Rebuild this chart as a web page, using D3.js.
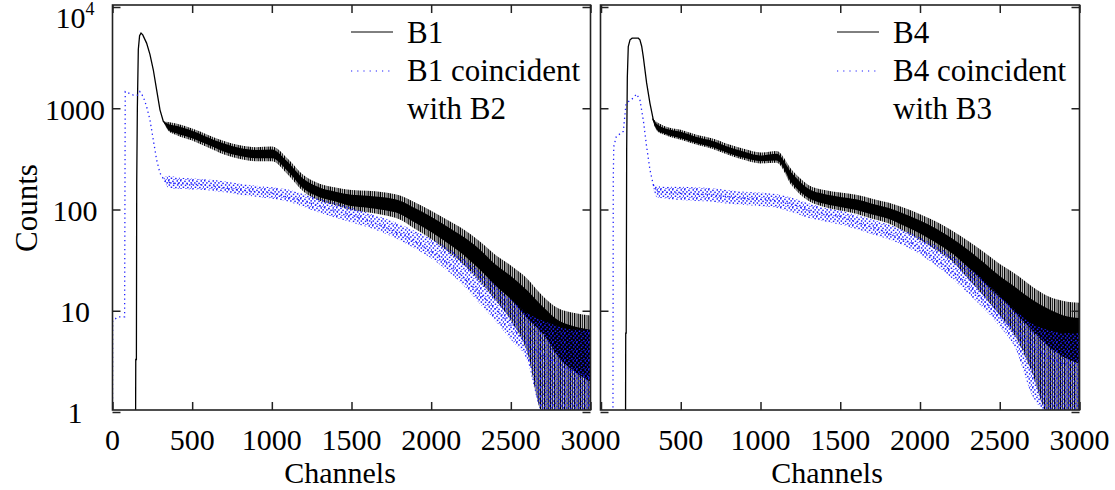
<!DOCTYPE html>
<html>
<head>
<meta charset="utf-8">
<script src="https://cdn.jsdelivr.net/npm/d3@7/dist/d3.min.js"></script>
<style>
  body { margin: 0; background: #fff; }
  svg text { font-family: "Liberation Serif", "Times New Roman", serif; fill: #000; }
</style>
</head>
<body>
<div id="chart"></div>
<script>
// ---- data ----
const xTicks = [0, 500, 1000, 1500, 2000, 2500, 3000];
const yTicks = [1, 10, 100, 1000, 10000];

// channel grid on which the noise band (lo / hi) was read
const bandCh = [320, 350, 400, 500, 600, 700, 800, 900, 1000, 1100, 1200, 1300, 1400, 1500, 1600,
  1700, 1800, 1900, 2000, 2100, 2200, 2300, 2400, 2500, 2600, 2700, 2800, 2900, 3000];

// B1 (solid black)
const b1Ch = [145, 146, 150, 152, 156, 162, 170, 179, 190, 214, 235, 256, 277, 298, 319, 350, 400, 476, 580, 685,
  790, 894, 1000, 1062, 1125, 1208, 1313, 1418, 1502, 1640, 1805, 1950, 2056, 2160, 2265, 2370, 2474, 2579, 2683, 2788,
  2893, 3000];
const b1Counts = [1, 3.3, 3.3, 183, 1000, 3800, 5200, 5520, 5300, 4400, 3400, 2400, 1520, 964, 740, 660, 620, 567, 487, 417,
  373, 354, 360, 309, 237, 175, 150, 134, 124, 120, 107, 79, 63, 50, 37, 25, 18.6, 12.8, 9.5, 6,
  4.8, 4.1];
const b1Lo = [740, 615, 565, 505, 435, 372, 337, 320, 320, 238, 160, 132, 120, 108, 104, 99, 91, 74, 60, 47, 36, 26, 18, 13, 8.5, 6, 3.5, 2.5, 2];
const b1Hi = [740, 700, 670, 600, 515, 448, 405, 388, 392, 295, 200, 165, 150, 140, 137, 132, 123, 103, 85, 68, 54, 41, 29, 22, 16, 11, 8, 7, 6.5];
const b1Min = [740, 600, 545, 480, 410, 350, 315, 300, 300, 222, 150, 122, 110, 99, 94, 88, 80, 64, 51, 39, 29, 20, 13, 8, 4, 1, 1, 1, 1];
const b1Max = [740, 730, 705, 630, 545, 475, 430, 412, 418, 318, 218, 180, 165, 156, 153, 148, 138, 117, 97, 79, 64, 49, 36, 28, 21, 14, 10.5, 9.5, 9];

// B1 coincident with B2 (blue dots)
const c1Ch = [0, 1, 36, 76, 80, 131, 162, 172, 193, 214, 235, 256, 277, 298, 329, 371, 580, 790, 1000, 1208,
  1418, 1502, 1637, 1846, 1950, 2056, 2160, 2265, 2370, 2474, 2579, 2683, 2788, 2893, 3000];
const c1Counts = [1, 8, 8.7, 8.7, 1460, 1350, 1350, 1460, 1300, 1040, 770, 488, 309, 229, 189, 182, 175, 156, 145, 120,
  95, 88, 74, 54, 43, 34, 25, 17, 11.8, 8.1, 5.1, 3.8, 3, 2.5, 2.2];
const c1Lo = [205, 165, 160, 158, 155, 148, 140, 134, 128, 120, 106, 93, 83, 75, 67, 59, 50, 41, 33, 25, 18, 12, 8, 5.2, 3.3, 1, 1, 1, 1];
const c1Hi = [205, 215, 208, 202, 198, 190, 180, 172, 166, 158, 142, 128, 116, 104, 93, 83, 72, 61, 51, 42, 33, 25, 18, 13, 9.5, 8, 7, 6.5, 6.5];

// B4 (solid black)
const b4Ch = [154, 155, 158, 161, 165, 171, 182, 195, 234, 244, 255, 265, 286, 307, 328, 349, 380, 484, 588, 693,
  797, 901, 1006, 1089, 1131, 1173, 1214, 1277, 1381, 1506, 1600, 1747, 1955, 2165, 2373, 2478, 2581, 2686, 2790, 2894,
  3000];
const b4Counts = [1, 6, 6, 400, 2000, 4070, 4740, 4920, 4920, 4740, 4100, 3240, 1780, 1120, 768, 660, 600, 546, 487, 445,
  388, 346, 321, 333, 309, 246, 189, 150, 129, 120, 112, 97, 73, 46, 25, 18.6, 12.8, 9.5, 7, 5.5,
  5];
const b4Lo = [800, 615, 560, 505, 452, 412, 360, 322, 300, 305, 180, 130, 114, 106, 99, 89, 81, 69, 58, 47, 37, 27, 19, 13.5, 9.5, 6.5, 4.5, 3.5, 3];
const b4Hi = [800, 700, 635, 585, 520, 475, 415, 372, 342, 355, 225, 160, 142, 133, 126, 114, 104, 91, 78, 65, 52, 40, 30, 22, 17, 13, 10.5, 9, 8.5];
const b4Min = [800, 600, 545, 488, 435, 395, 345, 308, 285, 290, 170, 122, 106, 98, 91, 81, 73, 61, 50, 40, 31, 21, 14, 9, 5.5, 2.5, 1, 1, 1];
const b4Max = [800, 730, 665, 612, 548, 502, 440, 395, 365, 378, 243, 175, 156, 147, 140, 128, 117, 104, 90, 76, 62, 49, 38, 29, 23, 17.5, 14, 12.5, 12];

// B4 coincident with B3 (blue dots)
const c4Ch = [75, 77, 80, 96, 140, 156, 171, 202, 223, 244, 265, 286, 307, 328, 349, 484, 693, 901, 1110, 1214,
  1318, 1506, 1747, 1955, 2165, 2270, 2373, 2478, 2581, 2686, 2790, 2894, 3000];
const c4Counts = [1, 200, 418, 526, 590, 1075, 1160, 1260, 1380, 1210, 768, 418, 246, 175, 150, 145, 139, 129, 122, 111,
  95, 85, 63, 46, 27, 20, 13.8, 9.4, 6.5, 4.8, 3.5, 3, 3];
const c4Lo = [185, 132, 128, 124, 121, 119, 114, 111, 108, 104, 94, 83, 76, 71, 64, 57, 51, 44, 36, 28, 21, 15, 10.5, 7, 4.2, 1.5, 1, 1, 1];
const c4Hi = [185, 172, 168, 168, 165, 162, 155, 150, 147, 142, 130, 115, 104, 97, 88, 79, 71, 62, 53, 44, 35, 27, 20, 14, 10, 7.5, 6.5, 6, 6];

const BLUE = "#1f1fff";

const svg = d3.select("#chart").append("svg").attr("width", 1115).attr("height", 490);

const defs = svg.append("defs");
// vertical spikes of the noisy black trace (irregular spacing)
const stripes = defs.append("pattern").attr("id", "stripes")
  .attr("patternUnits", "userSpaceOnUse").attr("width", 10).attr("height", 4);
[[0, 1.3], [2.2, 1], [4, 1.4], [6.5, 1], [8.2, 1.2]].forEach(([sx, sw]) =>
  stripes.append("rect").attr("x", sx).attr("width", sw).attr("height", 4).attr("fill", "#000"));
// scattered blue dots
const dots = defs.append("pattern").attr("id", "dots")
  .attr("patternUnits", "userSpaceOnUse").attr("width", 12).attr("height", 9);
[[0, 0], [4.2, 0.6], [8.5, 0.2], [2.1, 2.2], [6.3, 2.6], [10.4, 2.1], [0.6, 4.3], [4.8, 4.6],
 [8.9, 4.2], [2.7, 6.5], [7.1, 6.8], [10.9, 6.2], [0.3, 8.1], [5.2, 8.3], [9.6, 8.4]].forEach(([px, py]) =>
  dots.append("rect").attr("x", px).attr("y", py).attr("width", 1.5).attr("height", 1.5).attr("fill", BLUE));

// same log scale for both panels
const y = d3.scaleLog().domain([1, 10000]).range([412, 7]);
const plotTop = 5, plotBottom = 410;

const zip = (ch, vals) => ch.map((c, i) => ({ ch: c, v: vals[i] }));
const band = (lo, hi) => bandCh.map((c, i) => ({ ch: c, lo: lo[i], hi: hi[i] }));

function drawPanel(opt) {
  const x = d3.scaleLinear().domain([0, 3000]).range(opt.range);
  const g = svg.append("g");

  const clipId = "clip" + opt.id;
  defs.append("clipPath").attr("id", clipId).append("rect")
    .attr("x", opt.frame[0]).attr("y", plotTop)
    .attr("width", opt.frame[1] - opt.frame[0]).attr("height", plotBottom - plotTop);

  const plot = g.append("g").attr("clip-path", `url(#${clipId})`);

  const area = d3.area().curve(d3.curveMonotoneX)
    .x((d) => x(d.ch)).y0((d) => y(d.lo)).y1((d) => y(d.hi));
  const line = d3.line().x((d) => x(d.ch)).y((d) => y(d.v));

  // black trace: spike envelope, dense core, trend line
  plot.append("path").datum(band(opt.bMin, opt.bMax))
    .attr("fill", "url(#stripes)").attr("d", area);
  plot.append("path").datum(band(opt.bLo, opt.bHi))
    .attr("fill", "#000").attr("d", area);
  plot.append("path").datum(zip(opt.bCh, opt.bCounts))
    .attr("fill", "none").attr("stroke", "#000").attr("stroke-width", 1.3).attr("d", line);

  // blue coincidence trace on top
  plot.append("path").datum(band(opt.cLo, opt.cHi))
    .attr("fill", "url(#dots)").attr("d", area);
  plot.append("path").datum(zip(opt.cCh, opt.cCounts))
    .attr("fill", "none").attr("stroke", BLUE).attr("stroke-width", 1.3)
    .attr("stroke-dasharray", "1.3 3.2").attr("d", line);

  // ticks on all four sides, pointing inwards
  g.append("g").attr("transform", `translate(0,${plotBottom})`)
    .call(d3.axisBottom(x).tickValues(xTicks).tickSize(-8).tickSizeOuter(0).tickFormat(""));
  g.append("g").attr("transform", `translate(0,${plotTop})`)
    .call(d3.axisTop(x).tickValues(xTicks).tickSize(-8).tickSizeOuter(0).tickFormat(""));
  g.append("g").attr("transform", `translate(${opt.frame[0]},0)`)
    .call(d3.axisLeft(y).tickValues(yTicks).tickSize(-8).tickSizeOuter(0).tickFormat(""));
  g.append("g").attr("transform", `translate(${opt.frame[1]},0)`)
    .call(d3.axisRight(y).tickValues(yTicks).tickSize(-8).tickSizeOuter(0).tickFormat(""));
  g.selectAll(".domain").remove();
  g.selectAll(".tick line").attr("stroke", "#222").attr("stroke-width", 1.5);

  g.append("rect")
    .attr("x", opt.frame[0]).attr("y", plotTop)
    .attr("width", opt.frame[1] - opt.frame[0]).attr("height", plotBottom - plotTop)
    .attr("fill", "none").attr("stroke", "#222").attr("stroke-width", 1.6);

  // x tick labels (the right panel's 0 sits under the left panel's 3000)
  g.selectAll(".xl").data(xTicks.filter((d) => opt.zeroLabel || d > 0)).join("text")
    .attr("x", (d) => x(d)).attr("y", 449.5)
    .attr("text-anchor", "middle").attr("font-size", 30)
    .text((d) => d);

  g.append("text").attr("x", opt.titleX).attr("y", 483)
    .attr("text-anchor", "middle").attr("font-size", 30).text("Channels");

  // legend
  const lg = g.append("g");
  lg.append("line").attr("x1", opt.legX - 56).attr("x2", opt.legX - 14)
    .attr("y1", 32).attr("y2", 32).attr("stroke", "#000").attr("stroke-width", 1);
  lg.append("line").attr("x1", opt.legX - 56).attr("x2", opt.legX - 14)
    .attr("y1", 71).attr("y2", 71).attr("stroke", BLUE).attr("stroke-width", 1.2)
    .attr("stroke-dasharray", "1.2 5");
  lg.selectAll("text").data(opt.legend).join("text")
    .attr("x", opt.legX).attr("y", (d, i) => 43 + i * 38)
    .attr("font-size", 31).text((d) => d);
}

drawPanel({
  id: "L", range: [112.5, 590.5], frame: [112.5, 590.5], titleX: 340, legX: 407, zeroLabel: true,
  bCh: b1Ch, bCounts: b1Counts, bLo: b1Lo, bHi: b1Hi, bMin: b1Min, bMax: b1Max,
  cCh: c1Ch, cCounts: c1Counts, cLo: c1Lo, cHi: c1Hi,
  legend: ["B1", "B1 coincident", "with B2"],
});
drawPanel({
  id: "R", range: [601, 1079.5], frame: [600.5, 1079.5], titleX: 827, legX: 893, zeroLabel: false,
  bCh: b4Ch, bCounts: b4Counts, bLo: b4Lo, bHi: b4Hi, bMin: b4Min, bMax: b4Max,
  cCh: c4Ch, cCounts: c4Counts, cLo: c4Lo, cHi: c4Hi,
  legend: ["B4", "B4 coincident", "with B3"],
});

// y tick labels (left panel only)
const yl = svg.append("g");
yl.selectAll("text").data(yTicks).join("text")
  .attr("x", 75).attr("y", (d) => y(d))
  .attr("dy", (d) => (d === 10000 ? "0.7em" : "0.38em"))
  .attr("text-anchor", "middle").attr("font-size", 30)
  .each(function (d) {
    const t = d3.select(this);
    if (d === 10000) {
      t.append("tspan").text("10");
      t.append("tspan").attr("font-size", 18).attr("dy", "-0.75em").text("4");
    } else {
      t.text(d);
    }
  });

svg.append("text").attr("transform", "translate(37,208) rotate(-90)")
  .attr("text-anchor", "middle").attr("font-size", 31).text("Counts");
</script>
</body>
</html>
